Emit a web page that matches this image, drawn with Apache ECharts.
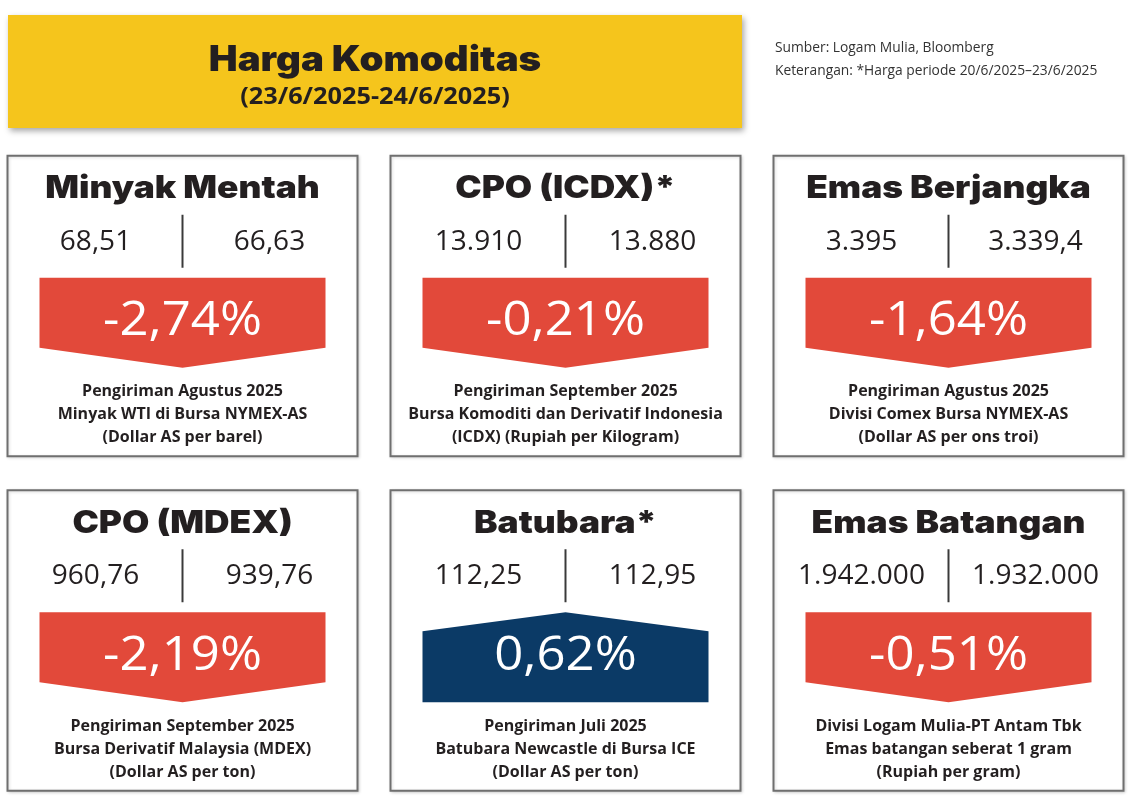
<!DOCTYPE html>
<html>
<head>
<meta charset="utf-8">
<script src="https://cdn.jsdelivr.net/npm/echarts@6/dist/echarts.min.js"></script>
<style>
html,body{margin:0;padding:0;background:#fff;}
#chart{width:1132px;height:808px;}
</style>
</head>
<body>
<div id="chart"></div>
<script>
// ---- data ----
const headerTitle = 'Harga Komoditas';
const headerPeriod = '(23/6/2025-24/6/2025)';
const sourceLines = ['Sumber: Logam Mulia, Bloomberg', 'Keterangan: *Harga periode 20/6/2025\u201323/6/2025'];
const commodities = ['Minyak Mentah', 'CPO (ICDX)*', 'Emas Berjangka', 'CPO (MDEX)', 'Batubara*', 'Emas Batangan'];
const prevPrice = ['68,51', '13.910', '3.395', '960,76', '112,25', '1.942.000'];
const lastPrice = ['66,63', '13.880', '3.339,4', '939,76', '112,95', '1.932.000'];
const changePct = [-2.74, -0.21, -1.64, -2.19, 0.62, -0.51];
const descLine1 = ['Pengiriman Agustus 2025', 'Pengiriman September 2025', 'Pengiriman Agustus 2025',
                   'Pengiriman September 2025', 'Pengiriman Juli 2025', 'Divisi Logam Mulia-PT Antam Tbk'];
const descLine2 = ['Minyak WTI di Bursa NYMEX-AS', 'Bursa Komoditi dan Derivatif Indonesia', 'Divisi Comex Bursa NYMEX-AS',
                   'Bursa Derivatif Malaysia (MDEX)', 'Batubara Newcastle di Bursa ICE', 'Emas batangan seberat 1 gram'];
const descLine3 = ['(Dollar AS per barel)', '(ICDX) (Rupiah per Kilogram)', '(Dollar AS per ons troi)',
                   '(Dollar AS per ton)', '(Dollar AS per ton)', '(Rupiah per gram)'];
const colCats = ['c1', 'c2', 'c3'];
const rowCats = ['r1', 'r2'];

const RED = '#e2493a', BLUE = '#0b3a66', YELLOW = '#f5c51c', INK = '#231f20';
const HEAVY = 'Inter, "Noto Sans", "DejaVu Sans", sans-serif';
const BODY = '"Open Sans", "Noto Sans", sans-serif';

const cells = commodities.map((c, i) => [i % 3, Math.floor(i / 3), i]);

function fmtPct(v) {
  return v.toFixed(2).replace('.', ',') + '%';
}

function renderItem(params, api) {
  const i = api.value(2);
  const c = api.coord([api.value(0), api.value(1)]);
  const band = api.size([1, 1]);
  const w = band[0] - 33, h = band[1] - 34;
  const cx = c[0], top = c[1] - h / 2, left = cx - w / 2;
  const up = changePct[i] >= 0;
  const aL = cx - 143, aR = cx + 143, aT = top + 122;
  const pts = up
    ? [[aL, aT + 19], [cx, aT], [aR, aT + 19], [aR, aT + 90], [aL, aT + 90]]
    : [[aL, aT], [aR, aT], [aR, aT + 70], [cx, aT + 90], [aL, aT + 70]];
  const descStyle = (t, y) => ({
    type: 'text', style: { text: t, x: cx, y: top + y, align: 'center', verticalAlign: 'middle',
      font: '700 16px ' + BODY, fill: INK }
  });
  return {
    type: 'group',
    children: [
      { type: 'rect', shape: { x: left, y: top, width: w, height: h },
        style: { fill: '#fff', stroke: '#6f6f6f', lineWidth: 2, shadowColor: 'rgba(0,0,0,0.15)', shadowBlur: 3, shadowOffsetX: 1, shadowOffsetY: 1 } },
      { type: 'text', x: cx, y: top + 33, scaleX: 1.14,
        style: { text: commodities[i], x: 0, y: 0, align: 'center', verticalAlign: 'middle',
        font: '900 31px ' + HEAVY, fill: INK } },
      { type: 'text', style: { text: prevPrice[i], x: cx - 87, y: top + 86, align: 'center', verticalAlign: 'middle',
        font: '400 28px ' + BODY, fill: INK } },
      { type: 'text', style: { text: lastPrice[i], x: cx + 87, y: top + 86, align: 'center', verticalAlign: 'middle',
        font: '400 28px ' + BODY, fill: INK } },
      { type: 'line', shape: { x1: cx, y1: top + 59, x2: cx, y2: top + 112 },
        style: { stroke: '#3a3a3a', lineWidth: 2 } },
      { type: 'polygon', shape: { points: pts }, style: { fill: up ? BLUE : RED } },
      { type: 'text', x: cx, y: top + 166, scaleX: 1.06,
        style: { text: fmtPct(changePct[i]), x: 0, y: 0, align: 'center', verticalAlign: 'middle',
        font: '400 48px ' + BODY, fill: '#fff' } },
      descStyle(descLine1[i], 236),
      descStyle(descLine2[i], 259),
      descStyle(descLine3[i], 282)
    ]
  };
}

const chart = echarts.init(document.getElementById('chart'), null, { renderer: 'canvas' });
chart.setOption({
  backgroundColor: '#fff',
  animation: false,
  grid: { left: 182.5, right: 183.5, top: 306, bottom: 167.5 },
  xAxis: { type: 'category', data: colCats, show: false, boundaryGap: false },
  yAxis: { type: 'category', data: rowCats, show: false, inverse: true, boundaryGap: false },
  graphic: [
    { type: 'rect', shape: { x: 8, y: 15, width: 734, height: 113 },
      style: { fill: YELLOW, shadowColor: 'rgba(0,0,0,0.35)', shadowBlur: 6, shadowOffsetX: 2, shadowOffsetY: 3 } },
    { type: 'text', x: 375, y: 60, scaleX: 1.1,
      style: { text: headerTitle, x: 0, y: 0, align: 'center', verticalAlign: 'middle',
      font: '900 35px ' + HEAVY, fill: INK } },
    { type: 'text', x: 375, y: 97, scaleX: 1.1,
      style: { text: headerPeriod, x: 0, y: 0, align: 'center', verticalAlign: 'middle',
      font: '700 23px ' + BODY, fill: INK } },
    { type: 'text', x: 775, y: 48, scaleX: 0.92,
      style: { text: sourceLines[0], x: 0, y: 0, align: 'left', verticalAlign: 'middle',
      font: '400 15px "Open Sans", sans-serif', fill: '#333' } },
    { type: 'text', x: 775, y: 71, scaleX: 0.92,
      style: { text: sourceLines[1], x: 0, y: 0, align: 'left', verticalAlign: 'middle',
      font: '400 15px "Open Sans", sans-serif', fill: '#333' } }
  ],
  series: [{
    type: 'custom',
    coordinateSystem: 'cartesian2d',
    encode: { x: 0, y: 1 },
    data: cells,
    renderItem: renderItem,
    silent: true
  }]
});
</script>
</body>
</html>
